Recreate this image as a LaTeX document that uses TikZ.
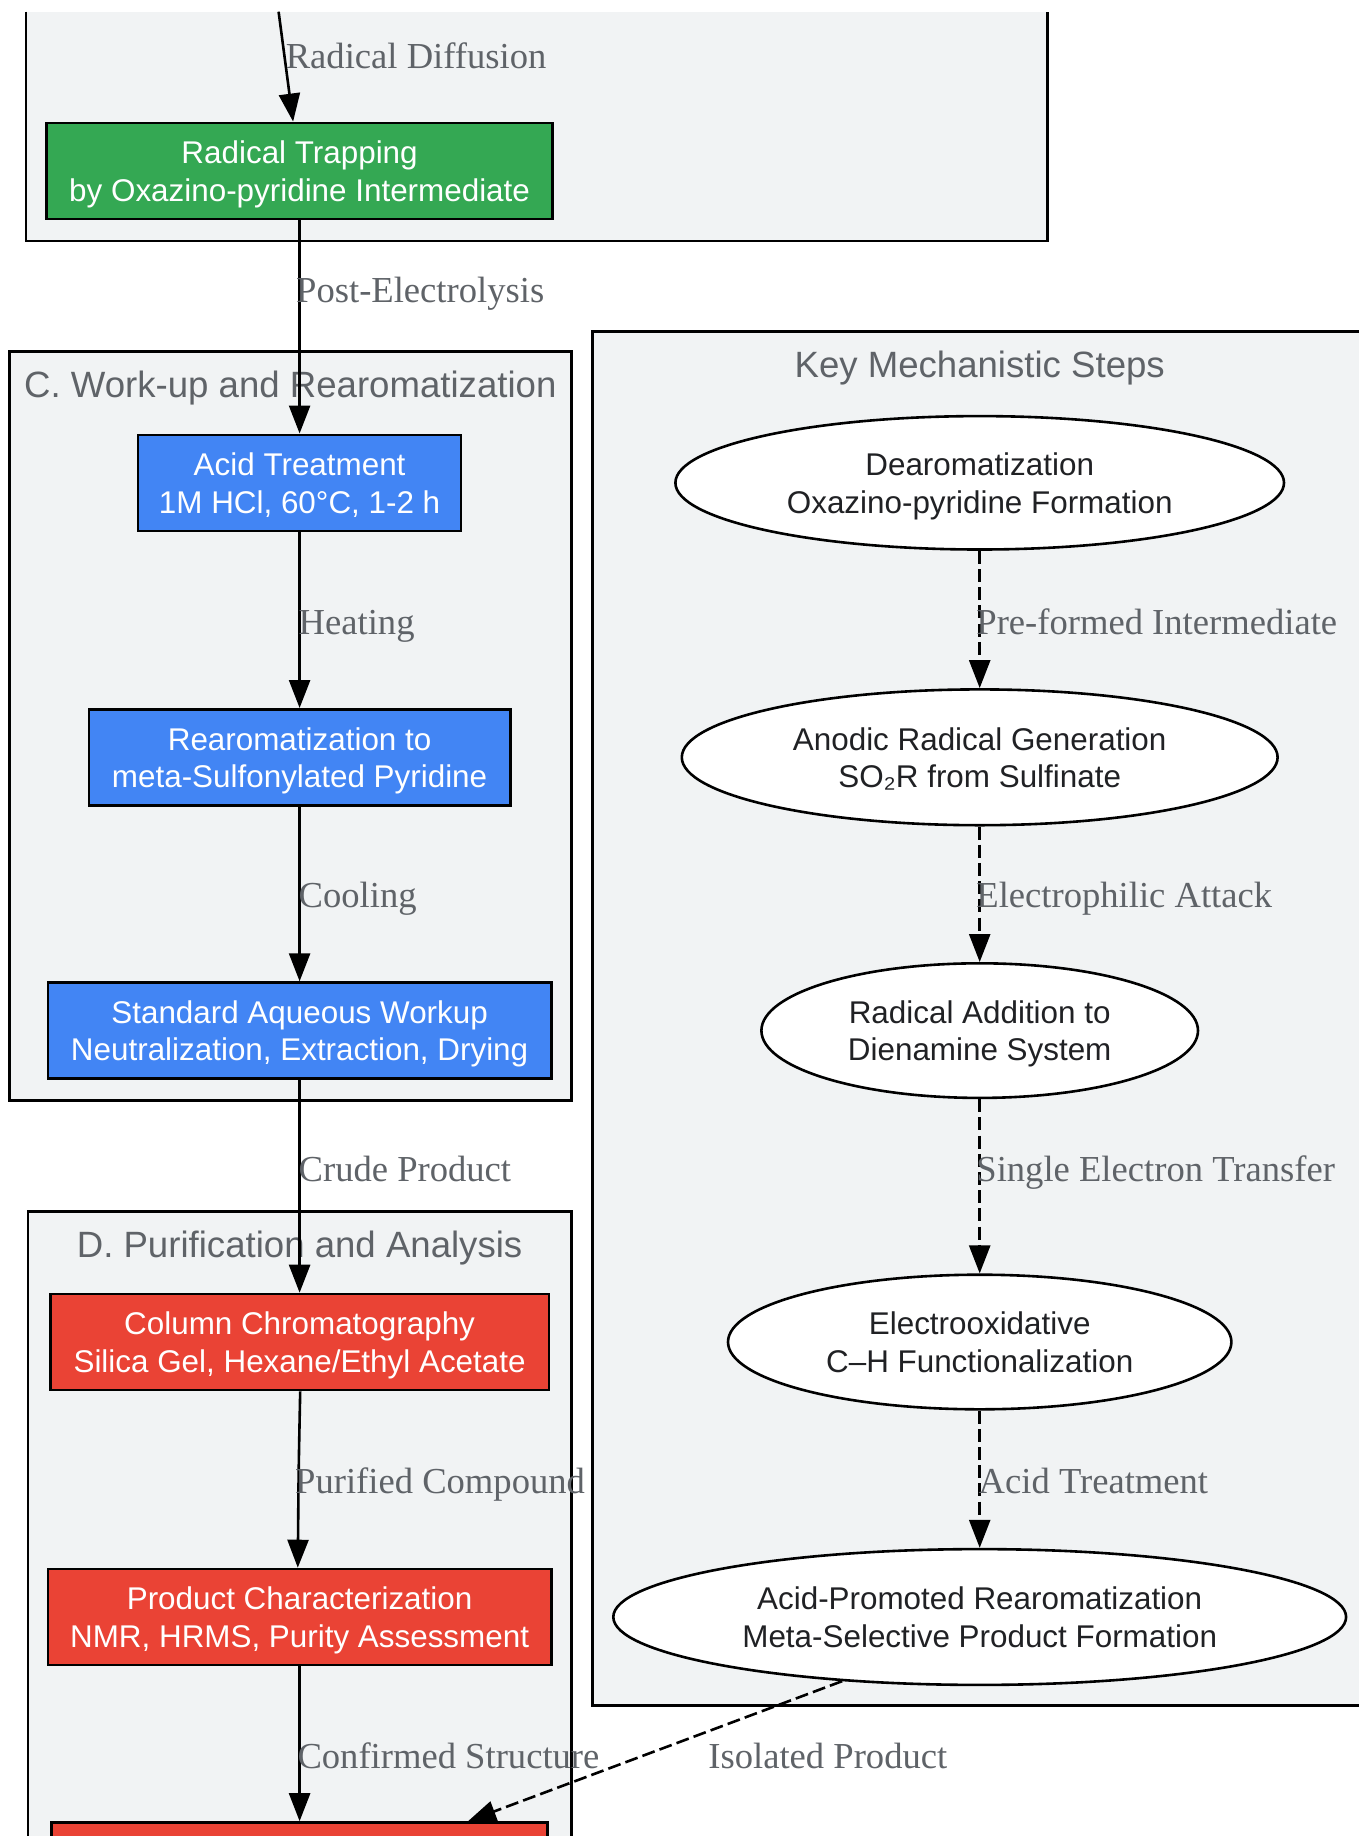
\documentclass[tikz,border=0pt]{standalone}
\usepackage{fontspec}
\setmainfont{Liberation Sans}
\newfontfamily\edgefont{Liberation Serif}
\usetikzlibrary{shapes.geometric,arrows.meta}
\definecolor{clfill}{HTML}{F1F3F4}
\definecolor{lblgray}{HTML}{5F6368}
\definecolor{darktext}{HTML}{202124}
\definecolor{gGreen}{HTML}{34A853}
\definecolor{gBlue}{HTML}{4285F4}
\definecolor{gRed}{HTML}{EA4335}
\newcommand\tl[2]{\rule{0pt}{30pt}#1\\#2\rule[-7pt]{0pt}{7pt}}
\begin{document}
\begin{tikzpicture}[x=1pt,y=-1pt,
  cluster/.style={fill=clfill,draw=black,line width=2.6pt},
  cltitle/.style={anchor=base,inner sep=0pt,text=lblgray,font=\fontsize{36.6}{44}\selectfont},
  box/.style={rectangle,draw=black,line width=2.6pt,minimum height=96pt,inner sep=0pt,align=center,text=white,font=\fontsize{31.4}{37.5}\selectfont},
  greenbox/.style={box,fill=gGreen},
  bluebox/.style={box,fill=gBlue},
  redbox/.style={box,fill=gRed},
  mech/.style={ellipse,draw=black,fill=white,line width=2.6pt,inner sep=0pt,align=center,text=darktext,font=\fontsize{31.4}{37.5}\selectfont},
  flow/.style={draw=black,line width=2.6pt,-{Triangle[length=28pt,width=21pt]}},
  mflow/.style={flow,dash pattern=on 13pt off 5.2pt},
  elabel/.style={anchor=base west,inner sep=0pt,text=lblgray,font=\edgefont\fontsize{36.6}{44}\selectfont}
]
\useasboundingbox (0,0) rectangle (1359,1836);
\fill[white] (0,0) rectangle (1359,1836);
\clip (0,0) rectangle (1359,1836);

% clusters
\fill[clfill] (25.8,11.7) rectangle (1047.6,241.1);
\draw[line width=2.6pt] (25.8,11.7) -- (25.8,241.1) -- (1047.6,241.1) -- (1047.6,11.7);
\path[cluster] (9.4,351.2) rectangle (571.2,1100.3);
\path[cluster] (28.1,1211.5) rectangle (571.2,1900);
\path[cluster] (592.3,331.3) rectangle (1367,1705.4);

\node[cltitle] (tC) at (290.3,397) {C. Work-up and Rearomatization};
\node[cltitle] (tD) at (299.6,1257.2) {D. Purification and Analysis};
\node[cltitle] (tK) at (979.7,377) {Key Mechanistic Steps};

% process nodes
\coordinate (top) at (278.6,11.7);
\node[greenbox,minimum width=505.7pt] (trap) at (299.6,170.9) {\tl{Radical Trapping}{by Oxazino-pyridine Intermediate}};
\node[bluebox,minimum width=323.1pt] (acid) at (299.6,482.8) {\tl{Acid Treatment}{1M HCl, 60°C, 1-2 h}};
\node[bluebox,minimum width=421.3pt] (rearo) at (299.6,757.3) {\tl{Rearomatization to}{meta-Sulfonylated Pyridine}};
\node[bluebox,minimum width=503.3pt] (workup) at (299.6,1030.6) {\tl{Standard Aqueous Workup}{Neutralization, Extraction, Drying}};
\node[redbox,minimum width=498.7pt] (column) at (299.6,1342.0) {\tl{Column Chromatography}{Silica Gel, Hexane/Ethyl Acetate}};
\node[redbox,minimum width=503.3pt] (charac) at (299.6,1617.0) {\tl{Product Characterization}{NMR, HRMS, Purity Assessment}};
\node[redbox,minimum width=496.3pt] (final) at (299.6,1870.5) {};

% mechanism nodes
\node[mech,minimum width=608.6pt,minimum height=133.4pt] (m1) at (979.7,482.8) {\tl{Dearomatization}{Oxazino-pyridine Formation}};
\node[mech,minimum width=595.8pt,minimum height=135.8pt] (m2) at (979.7,757.3) {\tl{Anodic Radical Generation}{SO₂R from Sulfinate}};
\node[mech,minimum width=436.6pt,minimum height=134.6pt] (m3) at (979.7,1030.6) {\tl{Radical Addition to}{Dienamine System}};
\node[mech,minimum width=503.4pt,minimum height=134.6pt] (m4) at (979.7,1342.0) {\tl{Electrooxidative}{C–H Functionalization}};
\node[mech,minimum width=732.8pt,minimum height=135.8pt] (m5) at (979.7,1617.0) {\tl{Acid-Promoted Rearomatization}{Meta-Selective Product Formation}};

% edges
\draw[flow] (top) -- (trap);
\draw[flow] (trap) -- (acid);
\draw[flow] (acid) -- (rearo);
\draw[flow] (rearo) -- (workup);
\draw[flow] (workup) -- (column);
\draw[flow] ([xshift=0.6pt]column.south) .. controls ([xshift=-1pt]column.south |- 0,1470) .. ([xshift=-1.8pt]charac.north);
\draw[flow] (charac) -- (final);
\draw[mflow] (m1) -- (m2);
\draw[mflow] (m2) -- (m3);
\draw[mflow] (m3) -- (m4);
\draw[mflow] (m4) -- (m5);
\draw[mflow] (m5.205) -- ([xshift=168.4pt]final.north);

% edge labels
\node[elabel] (l1) at (285.6,68.7) {Radical Diffusion};
\node[elabel] (l2) at (296,302.8) {Post-Electrolysis};
\node[elabel] (l3) at (298.5,634) {Heating};
\node[elabel] (l4) at (298.5,907.9) {Cooling};
\node[elabel] (l5) at (298.5,1181.8) {Crude Product};
\node[elabel] (l6) at (295,1493.2) {Purified Compound};
\node[elabel] (l7) at (297.3,1768.3) {Confirmed Structure};
\node[elabel] (l8) at (976.2,634) {Pre-formed Intermediate};
\node[elabel] (l9) at (976.2,907.9) {Electrophilic Attack};
\node[elabel] (l10) at (976.2,1181.8) {Single Electron Transfer};
\node[elabel] (l11) at (978.5,1493.2) {Acid Treatment};
\node[elabel] (l12) at (708.2,1768.3) {Isolated Product};
\end{tikzpicture}
\end{document}
